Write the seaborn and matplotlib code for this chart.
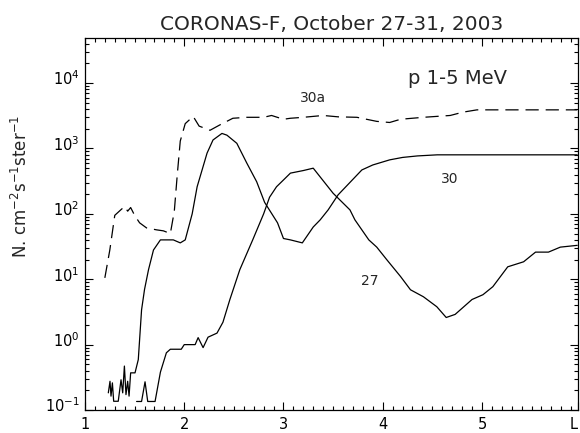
import matplotlib
matplotlib.use('Agg')
import matplotlib.pyplot as plt
import matplotlib.ticker as mticker
import matplotlib.transforms as mtransforms
import seaborn as sns

# L-shell values and fluxes
l_30a = [1.20, 1.25, 1.30, 1.36, 1.40, 1.43, 1.46, 1.50, 1.55, 1.62, 1.72, 1.79,
         1.86, 1.90, 1.93, 1.96, 2.01, 2.09, 2.15, 2.26, 2.36, 2.49, 2.63, 2.80,
         2.88, 3.00, 3.07, 3.20, 3.40, 3.55, 3.74, 3.94, 4.07, 4.18, 4.41, 4.68,
         4.81, 4.95, 5.96]
flux_30a = [10.5, 28, 95, 115, 130, 110, 125, 95, 73, 61, 57, 55,
            50, 110, 400, 1300, 2400, 3100, 2200, 1900, 2300, 2900, 3000, 3000,
            3200, 2800, 2900, 3000, 3200, 3050, 3000, 2600, 2500, 2800, 3000, 3200,
            3600, 3900, 3900]

l_30 = [1.235, 1.252, 1.262, 1.276, 1.289, 1.32, 1.335, 1.363, 1.38, 1.397,
        1.413, 1.43, 1.444, 1.46, 1.504, 1.537, 1.57, 1.60, 1.64, 1.69, 1.76,
        1.89, 1.96, 2.01, 2.08, 2.13, 2.23, 2.29, 2.38, 2.43, 2.53, 2.63, 2.73,
        2.81, 2.94, 3.00, 3.07, 3.19, 3.30, 3.37, 3.45, 3.55, 3.79, 3.90, 4.07,
        4.20, 4.35, 4.55, 5.96]
flux_30 = [0.183, 0.275, 0.163, 0.26, 0.136, 0.136, 0.136, 0.29, 0.183, 0.47,
           0.172, 0.275, 0.163, 0.37, 0.37, 0.59, 3.4, 7, 14, 28, 40,
           40, 36, 40, 100, 260, 850, 1350, 1700, 1600, 1200, 600, 310,
           150, 73, 42, 40, 36, 63, 81, 115, 195, 470, 560, 670,
           730, 770, 800, 800]

l_27 = [1.52, 1.57, 1.605, 1.632, 1.706, 1.76, 1.82, 1.86, 1.97, 2.00, 2.11,
        2.14, 2.19, 2.24, 2.33, 2.39, 2.46, 2.56, 2.69, 2.80, 2.86, 2.93, 3.00,
        3.07, 3.20, 3.30, 3.50, 3.67, 3.72, 3.86, 3.94, 4.04, 4.18, 4.28, 4.41,
        4.545, 4.64, 4.73, 4.90, 5.01, 5.11, 5.26, 5.42, 5.54, 5.67, 5.79, 5.96]
flux_27 = [0.135, 0.135, 0.27, 0.135, 0.135, 0.38, 0.75, 0.85, 0.85, 1.0, 1.0,
           1.28, 0.9, 1.3, 1.5, 2.2, 4.9, 14, 40, 100, 180, 260, 330,
           420, 460, 500, 207, 115, 81, 40, 31, 20, 11, 6.9, 5.4,
           3.8, 2.6, 2.9, 4.9, 5.8, 7.7, 15.5, 18.5, 26, 26, 31, 33]

x_ticks = [1, 2, 3, 4, 5, 5.968]
x_tick_labels = ['1', '2', '3', '4', '5', 'L']

sns.set_style('ticks')
plt.rcParams['font.family'] = ['DejaVu Sans']
plt.rcParams['mathtext.default'] = 'regular'
plt.rcParams['lines.scale_dashes'] = False

fig = plt.figure(figsize=(5.8, 4.33), dpi=100)
ax = fig.add_axes([85 / 580, 23 / 433, 493 / 580, 372 / 433])

sns.lineplot(x=l_30a, y=flux_30a, ax=ax, color='black', lw=0.9)
ax.lines[-1].set_dashes([9.5, 5])
sns.lineplot(x=l_30, y=flux_30, ax=ax, color='black', lw=0.9)
sns.lineplot(x=l_27, y=flux_27, ax=ax, color='black', lw=0.9)

ax.set_yscale('log')
ax.set_xlim(1, 5.968)
ax.set_ylim(0.1, 4.9e4)
ax.set_xticks(x_ticks)
ax.set_xticklabels(x_tick_labels)
ax.get_xticklabels()[-1].set_horizontalalignment('right')
ax.xaxis.set_minor_locator(mticker.MultipleLocator(0.1))
ax.yaxis.set_major_locator(mticker.LogLocator(base=10, numticks=10))
ax.yaxis.set_minor_locator(mticker.LogLocator(base=10, subs=range(2, 10), numticks=20))
ax.yaxis.set_minor_formatter(mticker.NullFormatter())

ax.tick_params(which='both', direction='in', top=True, right=True, width=0.8, colors='black')
ax.tick_params(which='major', length=6, labelsize=10.5)
ax.tick_params(which='minor', length=3)
ax.tick_params(axis='x', which='major', pad=5)
ax.tick_params(axis='y', which='major', pad=4)
for spine in ax.spines.values():
    spine.set_linewidth(0.9)
    spine.set_color('black')

shift = mtransforms.ScaledTranslation(0, 4 / 72, fig.dpi_scale_trans)
for lab in ax.get_yticklabels():
    lab.set_transform(lab.get_transform() + shift)

ax.set_xlabel('')
ax.set_ylabel(r'N. cm$^{-2}$s$^{-1}$ster$^{-1}$', fontsize=12)
ax.yaxis.set_label_coords(-0.11, 0.6)
ax.set_title('CORONAS-F, October 27-31, 2003', fontsize=14.5, pad=6)

ax.text(0.755, 0.876, 'p 1-5 MeV', transform=ax.transAxes, fontsize=14,
        ha='center', va='baseline')
ax.text(3.30, 5900, '30a', fontsize=10, ha='center', va='center')
ax.text(4.67, 340, '30', fontsize=10, ha='center', va='center')
ax.text(3.87, 9.5, '27', fontsize=10, ha='center', va='center')

fig.savefig('out.png', dpi=100)
